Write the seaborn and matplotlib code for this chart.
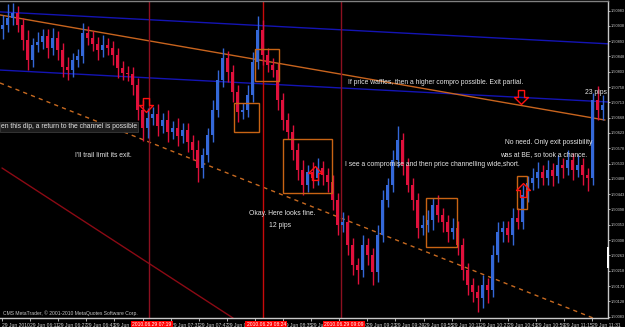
import numpy as np
import pandas as pd
import matplotlib
matplotlib.use("Agg")
import matplotlib.pyplot as plt
import seaborn as sns
from matplotlib.patches import Rectangle
from matplotlib.path import Path
import matplotlib.transforms as mtransforms

# ---------------- data ----------------
first_open = 1.50930
closes = [
    1.50941, 1.50961, 1.50976, 1.50941, 1.50897, 1.50838, 1.50882, 1.50891, 1.50908, 1.50873,
    1.50903, 1.50867, 1.50817, 1.50808, 1.50838, 1.50850, 1.50917, 1.50903, 1.50885, 1.50867,
    1.50882, 1.50873, 1.50853, 1.50814, 1.50800, 1.50797, 1.50764, 1.50691, 1.50638, 1.50667,
    1.50679, 1.50644, 1.50661, 1.50626, 1.50638, 1.50614, 1.50632, 1.50597, 1.50573, 1.50520,
    1.50559, 1.50617, 1.50691, 1.50779, 1.50844, 1.50803, 1.50744, 1.50685, 1.50691, 1.50735,
    1.50832, 1.50926, 1.50853, 1.50823, 1.50808, 1.50720, 1.50661, 1.50626, 1.50573, 1.50514,
    1.50470, 1.50509, 1.50491, 1.50520, 1.50500, 1.50479, 1.50426, 1.50353, 1.50362, 1.50294,
    1.50235, 1.50220, 1.50294, 1.50265, 1.50215, 1.50323, 1.50426, 1.50470, 1.50544, 1.50603,
    1.50529, 1.50470, 1.50426, 1.50344, 1.50353, 1.50367, 1.50412, 1.50382, 1.50362, 1.50332,
    1.50344, 1.50294, 1.50220, 1.50176, 1.50156, 1.50138, 1.50176, 1.50162, 1.50265, 1.50332,
    1.50344, 1.50323, 1.50373, 1.50362, 1.50441, 1.50476, 1.50491, 1.50509, 1.50491, 1.50514,
    1.50497, 1.50529, 1.50520, 1.50544, 1.50514, 1.50529, 1.50500, 1.50491, 1.50720, 1.50691,
    1.50706,
]
wick_up = [
    3, 4, 3, 2, 2, 3, 2, 3, 2, 2,
    3, 2, 2, 3, 2, 2, 3, 2, 2, 2,
    3, 2, 2, 2, 2, 2, 2, 2, 3, 3,
    2, 3, 2, 3, 2, 3, 2, 2, 2, 3,
    2, 2, 3, 3, 3, 2, 2, 2, 2, 3,
    3, 4, 3, 2, 2, 2, 2, 2, 2, 2,
    3, 2, 3, 3, 2, 2, 2, 2, 3, 2,
    2, 2, 3, 2, 2, 3, 3, 2, 3, 4,
    2, 2, 2, 2, 3, 3, 2, 3, 2, 2,
    3, 2, 2, 2, 2, 2, 3, 2, 3, 3,
    2, 2, 3, 3, 3, 2, 3, 3, 2, 3,
    2, 3, 2, 3, 2, 3, 2, 2, 2, 4,
    3,
]
wick_dn = [
    3, 2, 2, 2, 3, 3, 2, 2, 2, 3,
    2, 3, 3, 3, 2, 2, 2, 2, 2, 3,
    2, 2, 3, 3, 2, 2, 3, 3, 4, 3,
    2, 3, 2, 3, 2, 3, 2, 3, 3, 4,
    3, 2, 2, 2, 2, 3, 3, 3, 2, 2,
    2, 2, 3, 2, 2, 3, 3, 2, 3, 3,
    3, 2, 3, 2, 3, 3, 3, 3, 2, 3,
    3, 4, 2, 3, 4, 3, 2, 2, 2, 2,
    3, 2, 3, 3, 2, 2, 3, 2, 3, 3,
    2, 3, 3, 3, 3, 4, 3, 4, 2, 2,
    3, 2, 3, 2, 2, 2, 2, 3, 2, 2,
    3, 2, 3, 2, 3, 2, 3, 4, 2, 3,
    3,
]

ytick_values = [1.50983, 1.50938, 1.50893, 1.50848, 1.50803, 1.50758, 1.50713,
                1.50668, 1.50623, 1.50578, 1.50533, 1.50488, 1.50443, 1.50398,
                1.50353, 1.50308, 1.50263, 1.50218, 1.50173, 1.50128, 1.50083]
xtick_labels = ["29 Jun 2010", "29 Jun 06:11", "29 Jun 06:27", "29 Jun 06:43",
                "29 Jun 06:59", "29 Jun 07:15", "29 Jun 07:31", "29 Jun 07:47",
                "29 Jun 08:03", "29 Jun 08:19", "29 Jun 08:35", "29 Jun 08:51",
                "29 Jun 09:07", "29 Jun 09:23", "29 Jun 09:39", "29 Jun 09:55",
                "29 Jun 10:11", "29 Jun 10:27", "29 Jun 10:43", "29 Jun 10:59",
                "29 Jun 11:15", "29 Jun 11:31"]

# trend lines: (bar index, price) anchors
trend_names = ["blue_top", "blue_low", "orange_top", "orange_dash", "red_diag"]
trend_x0 = [-0.5, -0.5, -0.5, -0.5, -0.1]
trend_x1 = [121.3, 121.3, 120.5, 119.5, 46.1]
trend_p0 = [1.50979, 1.50808, 1.50970, 1.50770, 1.50520]
trend_p1 = [1.50885, 1.50714, 1.50661, 1.50071, 1.50079]

# vertical lines
vline_idx = [29.3, 52.1, 67.7]
vline_labels = ["2010.06.29 07:19", "2010.06.29 08:24", "2010.06.29 09:09"]

# rectangles
box_x0 = [50.5, 46.3, 56.1, 84.7, 102.9]
box_x1 = [55.3, 51.3, 65.9, 90.9, 104.9]
box_lo = [1.50776, 1.50626, 1.50447, 1.50288, 1.50400]
box_hi = [1.50870, 1.50710, 1.50606, 1.50432, 1.50497]

# arrows
arrow_idx = [28.7, 103.7, 62.5, 104.1]
arrow_price = [1.50706, 1.50729, 1.50506, 1.50456]
arrow_dir = ["down", "down", "up", "up"]

# ---------------- style ----------------
sns.set_theme(style="dark", rc={"axes.facecolor": "black", "figure.facecolor": "black",
                                "savefig.facecolor": "black"})
plt.rcParams["font.family"] = ["Liberation Sans", "DejaVu Sans"]
NARROW = ["Liberation Sans Narrow", "Liberation Sans", "DejaVu Sans"]

W, H = 625, 327
fig = plt.figure(figsize=(W / 100, H / 100), dpi=100)
AX_L, AX_R, AX_T, AX_B = 0, 608, 1, 318
ax = fig.add_axes([AX_L / W, (H - AX_B) / H, (AX_R - AX_L) / W, (AX_B - AX_T) / H])
ax.set_facecolor("black")

n = len(closes)
idx = np.arange(n)
opens = [first_open] + closes[:-1]
highs = [max(o, c) + u / 10000 for o, c, u in zip(opens, closes, wick_up)]
lows = [min(o, c) - d / 10000 for o, c, d in zip(opens, closes, wick_dn)]
df = pd.DataFrame({"idx": idx, "open": opens, "close": closes, "high": highs, "low": lows})
df["bull"] = df["close"] >= df["open"]

BLUE = "#3468d8"
RED = "#e0103c"
cols = np.where(df["bull"], BLUE, RED)

# trend lines (drawn first, under candles)
tcolors = ["#1414b4", "#1414b4", "#c8641e", "#c86a20", "#8b0a14"]
tstyles = ["-", "-", "-", (0, (3, 3)), "-"]
for i in range(len(trend_names)):
    sns.lineplot(x=[trend_x0[i], trend_x1[i]], y=[trend_p0[i], trend_p1[i]],
                 color=tcolors[i], linewidth=1.0, linestyle=tstyles[i], ax=ax,
                 zorder=2, legend=False)

# vertical lines
vcols = ["#8c1020", "#c80a0a", "#8c1020"]
for v, c in zip(vline_idx, vcols):
    ax.axvline(v, color=c, linewidth=1.0, zorder=2)

# candles
ax.vlines(df["idx"], df["low"], df["high"], colors=cols, linewidth=1.0, zorder=3)
body_lo = np.minimum(df["open"], df["close"])
body_h = np.maximum(np.abs(df["close"] - df["open"]), 0.00002)
ax.bar(df["idx"], body_h, bottom=body_lo, width=0.6, color=cols, linewidth=0, zorder=4)

# rectangles
for x0, x1, lo, hi in zip(box_x0, box_x1, box_lo, box_hi):
    ax.add_patch(Rectangle((x0, lo), x1 - x0, hi - lo, fill=False,
                           edgecolor="#c86414", linewidth=1.0, zorder=5))

# arrows (hollow)
down_verts = [(-0.22, 0.5), (0.22, 0.5), (0.22, 0.0), (0.5, 0.0), (0.0, -0.5),
              (-0.5, 0.0), (-0.22, 0.0), (-0.22, 0.5)]
down_path = Path(down_verts, closed=True)
up_path = Path([(x, -y) for x, y in down_verts], closed=True)
for xi, pi, d in zip(arrow_idx, arrow_price, arrow_dir):
    ax.plot([xi], [pi], marker=down_path if d == "down" else up_path, markersize=10,
            markerfacecolor="none", markeredgecolor="#ff1010", markeredgewidth=1.0,
            linestyle="none", zorder=6)

# axes limits
ax.set_xlim(-0.5, 121.1)
ax.set_ylim(1.50079, 1.51011)

# y axis on the right
ax.yaxis.tick_right()
ax.set_yticks(ytick_values)
ax.set_yticklabels([f"{v:.5f}" for v in ytick_values], family=NARROW)
ax.tick_params(axis="y", colors="#d0d0d0", labelsize=2.8, length=1.5, width=0.6, pad=0.4,
               right=True, left=False)

# x axis
xt = [(2 + 28.1 * k - 2.5) / 5 for k in range(len(xtick_labels))]
ax.set_xticks(xt)
ax.set_xticklabels(xtick_labels, family=NARROW)
for lbl in ax.get_xticklabels():
    lbl.set_ha("left")
ax.tick_params(axis="x", colors="#d0d0d0", labelsize=3.6, length=2, width=0.6, pad=1.5,
               bottom=True)
ax.grid(False)

ax.spines["left"].set_visible(False)
ax.spines["right"].set_color("#c8c8c8")
ax.spines["bottom"].set_color("#c8c8c8")
ax.spines["top"].set_color("#808080")
for s in ["right", "bottom", "top"]:
    ax.spines[s].set_linewidth(1.0)
    ax.spines[s].set_visible(True)

# red time labels on the time axis (they cover the tick labels beneath, as in MetaTrader)
blend = mtransforms.blended_transform_factory(ax.transData, ax.transAxes)
for v, t in zip(vline_idx, vline_labels):
    ax.text(v - 3.3, -0.013, t, transform=blend, ha="left", va="top", fontsize=3.6,
            family=NARROW, color="white", clip_on=False, zorder=10,
            bbox=dict(facecolor="#ff0000", edgecolor="none", pad=0.8))

# annotations (pixel positions -> axes fraction)
def axf(x, y):
    return ((x - AX_L) / (AX_R - AX_L), (AX_B - y) / (AX_B - AX_T))

TXT = "#e6e6e6"
FS = 4.9
notes = [
    ("en this dip, a return to the channel is possible", 1, 127, "left"),
    ("I'll trail limit its exit.", 103, 156, "center"),
    ("Okay. Here looks fine.", 282, 214, "center"),
    ("12 pips", 280, 226, "center"),
    ("If price waffles, then a higher compro possible. Exit partial.", 348, 83, "left"),
    ("23 pips", 596, 93, "center"),
    ("No need. Only exit possibility", 549, 143, "center"),
    ("was at BE, so took a chance.", 544, 155, "center"),
    ("I see a compromise and then price channelling wide,short.", 345, 165, "left"),
]
for i, (t, x, y, ha) in enumerate(notes):
    kw = {}
    if i == 0:
        kw["bbox"] = dict(facecolor="#1c1c1c", edgecolor="#3a3a3a", pad=0.8, linewidth=0.6)
    ax.text(*axf(x, y), t, transform=ax.transAxes, ha=ha, va="center", fontsize=FS,
            color=TXT, zorder=8, **kw)

ax.text(*axf(3, 313), "CMS MetaTrader, \u00a9 2001-2010 MetaQuotes Software Corp.",
        transform=ax.transAxes, ha="left", va="center", fontsize=3.6, color="#c8c8c8", zorder=8)

# white marker on the price scale
ax.add_patch(Rectangle(axf(606.5, 268), 2.5 / (AX_R - AX_L), 21 / (AX_B - AX_T),
                       transform=ax.transAxes, facecolor="white", edgecolor="none",
                       clip_on=False, zorder=9))

fig.savefig("out.png", dpi=100, facecolor="black")
